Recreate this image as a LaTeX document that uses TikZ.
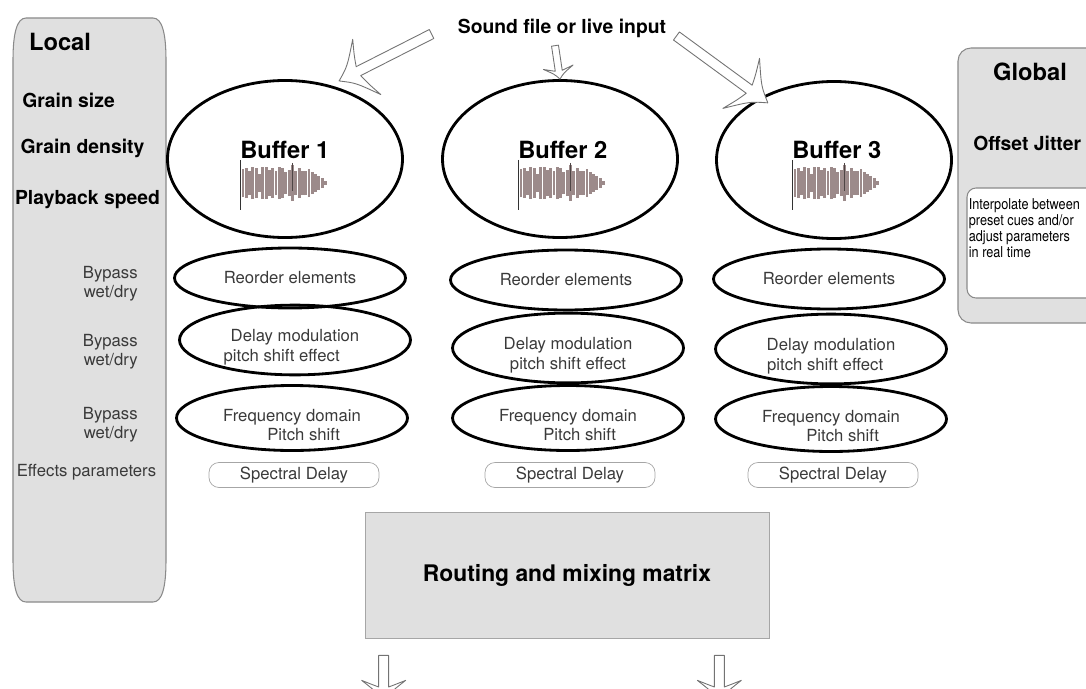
\documentclass[tikz,border=0pt]{standalone}
\usepackage{fontspec}
\setmainfont{TeX Gyre Heros}
\newfontfamily\narrowfont[FakeStretch=0.85]{TeX Gyre Heros}
\usepackage{tikz}
\usetikzlibrary{positioning}
\usetikzlibrary{shapes.geometric}
\usetikzlibrary{calc}
\usepackage{xcolor}
\definecolor{panelgray}{HTML}{E0E0E0}
\definecolor{edgegray}{HTML}{8A8A8A}
\definecolor{wavecol}{HTML}{9C8A8A}
\definecolor{txtgray}{HTML}{3A3A3A}

% hollow block arrow: from, to, shaft half width, head half width, head length
\newcommand{\hollowarrow}[5]{%
\path[hollow] let \p1=($(#2)-(#1)$), \n1={veclen(\x1,\y1)}, \n2={atan2(\y1,\x1)} in
  [shift={(#1)}, rotate=\n2]
  (0,-#3) -- (\n1-0.7*#5,-#3)
  .. controls (\n1-0.8*#5,-0.5*#4) .. (\n1-#5,-#4)
  .. controls (\n1-0.45*#5,-0.3*#4) .. (\n1,0)
  .. controls (\n1-0.45*#5,0.3*#4) .. (\n1-#5,#4)
  .. controls (\n1-0.8*#5,0.5*#4) .. (\n1-0.7*#5,#3)
  -- (0,#3) -- cycle;}
% strut that pushes two-line ellipse texts down
\newcommand{\lowstrut}{\rule{0pt}{15pt}}

\begin{document}
\begin{tikzpicture}[
  panel/.style={draw=edgegray, fill=panelgray, line width=0.6pt},
  buffer/.style={ellipse, draw, line width=1.6pt, minimum width=4.70cm, minimum height=3.14cm, inner sep=0pt},
  buflabel/.style={font=\fontsize{13.5}{16}\selectfont\bfseries, inner sep=0pt},
  fx/.style={ellipse, draw, line width=1.6pt, minimum width=4.62cm, minimum height=1.30cm, inner sep=0pt, align=center, text=txtgray, font=\fontsize{9.5}{11}\selectfont},
  spec/.style={draw=gray!70, rounded corners=0.2cm, minimum width=3.40cm, minimum height=0.50cm, inner sep=0pt, text=txtgray, font=\fontsize{9.5}{11}\selectfont},
  big/.style={font=\fontsize{13.5}{16}\selectfont\bfseries, inner sep=0pt},
  param/.style={font=\fontsize{11}{13}\selectfont\bfseries, inner sep=0pt},
  side/.style={align=right, inner sep=0pt, text=txtgray, font=\fontsize{9.5}{11}\selectfont},
  note/.style={align=left, inner sep=0pt, font=\narrowfont\fontsize{8.5}{9.2}\selectfont},
  mixbox/.style={draw=gray!70, fill=panelgray, minimum width=8.08cm, minimum height=2.52cm, font=\fontsize{13}{15}\selectfont\bfseries},
  hollow/.style={draw=black!55, fill=white, line width=0.5pt, line join=round},
  wave/.style={draw=wavecol, line width=0.058cm},
  cursor/.style={draw=black!80, line width=0.5pt},
  waveform/.pic={
    \foreach \h [count=\i] in {14,15,12,16,15,9,16,16,13,15,12,16,15,11,13,18,12,15,12,12,14,11,9,7,5,2}
      \draw[wave] (\i*0.066-0.066,-\h*0.02) -- (\i*0.066-0.066,\h*0.02);
    \draw[draw=wavecol!50!black, line width=0.4pt] (0.98,0.40) -- (0.98,-0.16);
  }]

\useasboundingbox (0,0) rectangle (21.72,13.76);

% side panels
\draw[panel] (0.26,12.56) .. controls (0.26,13.10) and (0.34,13.40) .. (0.52,13.40) -- (3.06,13.40) .. controls (3.24,13.40) and (3.32,13.10) .. (3.32,12.56) -- (3.32,2.56) .. controls (3.32,2.00) and (3.24,1.72) .. (3.06,1.72) -- (0.52,1.72) .. controls (0.34,1.72) and (0.26,2.00) .. (0.26,2.56) -- cycle;
\draw[panel, rounded corners=0.26cm] (19.16,7.30) rectangle (22.20,12.80);
\draw[draw=edgegray, fill=white, line width=0.6pt, rounded corners=0.18cm] (19.34,7.80) rectangle (22.20,10.00);

\node[big] (loc) at (1.20,12.92) {Local};
\node[param] (gsize) at (1.37,11.76) {Grain size};
\node[param] (gdens) at (1.65,10.80) {Grain density};
\node[param] (speed) at (1.75,9.76) {Playback speed};
\node[side, anchor=east] (byp1) at (2.76,8.08) {Bypass\\wet/dry};
\node[side, anchor=east] (byp2) at (2.76,6.72) {Bypass\\wet/dry};
\node[side, anchor=east] (byp3) at (2.76,5.26) {Bypass\\wet/dry};
\node[side] (effp) at (1.73,4.32) {Effects parameters};

\node[big] (glob) at (20.60,12.32) {Global};
\node[param, anchor=west] (jit) at (19.46,10.90) {Offset Jitter};
\node[note, anchor=west] (interp) at (19.37,9.20) {Interpolate between\\preset cues and/or\\adjust parameters\\in real time};

\node[param] (src) at (11.24,13.20) {Sound file or live input};

\begin{scope}[xshift=5.70cm]{
\node[buffer] (b1) at (0,10.58) {};
\node[buflabel, anchor=west] (l1) at (-0.90,10.76) {Buffer 1};
\draw[cursor] (-0.90,10.56) -- (-0.90,9.56);
\pic at (-0.84,10.10) {waveform};
\node[fx, minimum height=1.20cm] (re1) at (0.10,8.20) {Reorder elements};
\node[fx, minimum height=1.22cm] (dm1) at (0.20,6.96) {\lowstrut Delay modulation\\\hspace*{-1.6em}pitch shift effect};
\node[fx] (fd1) at (0.14,5.40) {\lowstrut Frequency domain\\\hspace*{1.4em}Pitch shift};
\node[spec] (sd1) at (0.18,4.26) {Spectral Delay};
} \end{scope}

\begin{scope}[xshift=11.20cm]{
\node[buffer] (b2) at (0,10.58) {};
\node[buflabel, anchor=west] (l2) at (-0.84,10.76) {Buffer 2};
\draw[cursor] (-0.84,10.56) -- (-0.84,9.56);
\pic at (-0.78,10.10) {waveform};
\node[fx, minimum height=1.20cm] (re2) at (0.12,8.16) {Reorder elements};
\node[fx] (dm2) at (0.16,6.80) {\lowstrut Delay modulation\\pitch shift effect};
\node[fx] (fd2) at (0.16,5.40) {\lowstrut Frequency domain\\\hspace*{1.4em}Pitch shift};
\node[spec] (sd2) at (0.20,4.26) {Spectral Delay};
} \end{scope}

\begin{scope}[xshift=16.68cm]{
\node[buffer] (b3) at (0,10.56) {};
\node[buflabel, anchor=west] (l3) at (-0.84,10.76) {Buffer 3};
\draw[cursor] (-0.84,10.56) -- (-0.84,9.56);
\pic at (-0.78,10.10) {waveform};
\node[fx, minimum height=1.20cm] (re3) at (-0.10,8.18) {Reorder elements};
\node[fx] (dm3) at (-0.06,6.78) {\lowstrut Delay modulation\\\hspace*{-0.7em}pitch shift effect};
\node[fx] (fd3) at (-0.06,5.38) {\lowstrut Frequency domain\\\hspace*{1.4em}Pitch shift};
\node[spec] (sd3) at (-0.02,4.26) {Spectral Delay};
} \end{scope}

\node[mixbox] (mix) at (11.34,2.26) {Routing and mixing matrix};

% input and output arrows
\coordinate (in1) at ($(src.west)+(-0.52,-0.12)$);
\coordinate (in2) at ($(src.south)+(-0.14,-0.16)$);
\coordinate (in3) at ($(src.east)+(0.20,-0.16)$);
\coordinate (out1) at ($(mix.south west)+(0.38,-0.34)$);
\coordinate (out2) at ($(mix.south east)+(-1.00,-0.34)$);

\hollowarrow{in1}{$(b1)+(1.08,1.56)$}{0.1cm}{0.62cm}{0.62cm}
\hollowarrow{in2}{b2.north}{0.07cm}{0.30cm}{0.24cm}
\hollowarrow{in3}{$(b3)+(-1.32,1.14)$}{0.1cm}{0.62cm}{0.66cm}
\hollowarrow{out1}{$(out1)+(0,-0.94)$}{0.1cm}{0.44cm}{0.44cm}
\hollowarrow{out2}{$(out2)+(0,-0.94)$}{0.1cm}{0.44cm}{0.44cm}

\end{tikzpicture}
\end{document}
